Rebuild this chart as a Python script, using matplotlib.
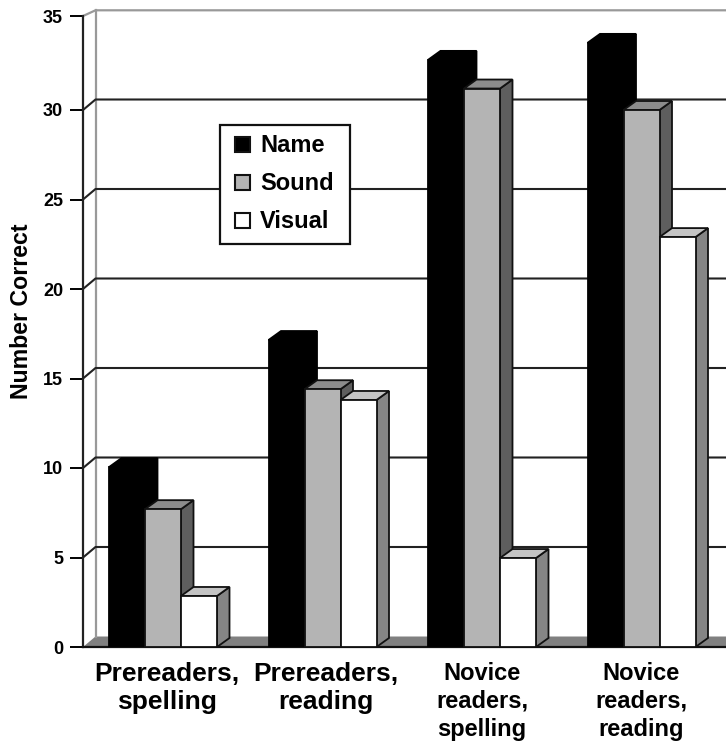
import numpy as np
import matplotlib
matplotlib.use('Agg')
import matplotlib.pyplot as plt
from matplotlib.patches import Polygon, Rectangle
from matplotlib.transforms import ScaledTranslation

plt.rcParams['font.family'] = ['Liberation Sans', 'DejaVu Sans']
plt.rcParams['font.weight'] = 'bold'

categories = ['Prereaders,\nspelling', 'Prereaders,\nreading',
              'Novice\nreaders,\nspelling', 'Novice\nreaders,\nreading']
series_names = ['Name', 'Sound', 'Visual']
name_vals = [10.05, 17.15, 32.8, 33.75]
sound_vals = [7.7, 14.4, 31.2, 30.0]
visual_vals = [2.85, 13.8, 4.97, 22.9]
yticks = [0, 5, 10, 15, 20, 25, 30, 35]

W, H = 726, 741
unit_px = 17.9
ytop = 35.25   # the original's top tick sits a little above 35
fig = plt.figure(figsize=(W / 100, H / 100), dpi=100)
ax = fig.add_axes([83 / W, 1 - 647 / H, (726 - 83) / W, ytop * unit_px / H])

group_px = 159.5
ax.set_xlim(-(163 - 83) / group_px, (726 - 163) / group_px)
ax.set_ylim(0, ytop)

dx = 12.5 / group_px   # 3d depth
dy = 9 / unit_px
wall_dy = 10.5 / unit_px
bw = 36 / group_px
lw = 1.3
edge = '#111111'

# back wall, floor and grid
x0 = ax.get_xlim()[0]
ax.add_patch(Polygon([(x0, 0), (x0 + dx, wall_dy), (3.6, wall_dy), (3.6, 0)], fc='#808080', ec='none', zorder=1))
for t in yticks[1:-1]:
    ax.plot([x0, x0 + dx, 3.6], [t, t + wall_dy, t + wall_dy], color='#222222', lw=1.5, zorder=1.5)
ax.plot([x0 + dx, x0 + dx], [wall_dy, ytop + 0.32], color='#999999', lw=1.6, zorder=1.2, clip_on=False)
ax.plot([x0, x0 + dx, 3.6], [ytop, ytop + 0.32, ytop + 0.32], color='#999999', lw=1.6, zorder=1.2, clip_on=False)


def bar3d(x, v, front, top, side, ec, z):
    ax.add_patch(Polygon([(x + bw, 0), (x + bw + dx, dy), (x + bw + dx, v + dy), (x + bw, v)],
                         fc=side, ec=ec, lw=lw, zorder=z))
    ax.add_patch(Polygon([(x, v), (x + dx, v + dy), (x + bw + dx, v + dy), (x + bw, v)],
                         fc=top, ec=ec, lw=lw, zorder=z))
    ax.bar(x, v, bw, align='edge', color=front, edgecolor=ec, lw=lw, zorder=z + 0.1)


offsets = [-1.5 * bw, -0.5 * bw, 0.5 * bw]
for i in range(4):
    bar3d(i + offsets[0], name_vals[i], 'black', 'black', 'black', 'black', 3)
    bar3d(i + offsets[1], sound_vals[i], '#b4b4b4', '#8c8c8c', '#5e5e5e', edge, 4)
    bar3d(i + offsets[2], visual_vals[i], 'white', '#c4c4c4', '#858585', edge, 5)

for s in ['top', 'right']:
    ax.spines[s].set_visible(False)
ax.spines['left'].set_linewidth(1.6)
ax.spines['bottom'].set_linewidth(1.6)
ax.spines['left'].set_color('#222222')
ax.spines['bottom'].set_color(edge)
ax.set_yticks(yticks[:-1] + [ytop])
ax.set_yticklabels([str(t) for t in yticks])
ax.tick_params(axis='y', length=9.4, width=1.4, labelsize=13, pad=5)
ax.set_xticks(range(4))
ax.set_xticklabels(categories, fontsize=19, linespacing=1.22)
ax.tick_params(axis='x', length=0, pad=10.5)
# first two labels sit a bit right of their groups in the original
shift = ScaledTranslation(3.5 / 100, 0, fig.dpi_scale_trans)
labs = ax.get_xticklabels()
for lab in labs[:2]:
    lab.set_transform(lab.get_transform() + shift)
# the novice labels are set smaller
for lab in labs[2:]:
    lab.set_fontsize(17)
    lab.set_linespacing(1.29)
ax.set_ylabel('Number Correct', fontsize=16.7, fontweight='bold')
ax.yaxis.set_label_coords((33 - 83) / (726 - 83), (647 - 311.5) / (ytop * unit_px))


def px(x, y):
    return (x / W, 1 - y / H)


# legend box
fig.add_artist(Rectangle(px(220, 244), 130 / W, 119 / H, transform=fig.transFigure,
                         fc='white', ec=edge, lw=1.6, zorder=10))
swatch_colors = ['black', '#b4b4b4', 'white']
for k, (nm, c) in enumerate(zip(series_names, swatch_colors)):
    yc = 144 + k * 38
    fig.add_artist(Rectangle(px(235, yc + 7.5), 15 / W, 15 / H, transform=fig.transFigure,
                             fc=c, ec=edge, lw=1.5, zorder=11))
    fig.text(260 / W, 1 - (yc + 1) / H, nm, fontsize=17, va='center', ha='left', zorder=11)

fig.savefig('out.png', dpi=100)
